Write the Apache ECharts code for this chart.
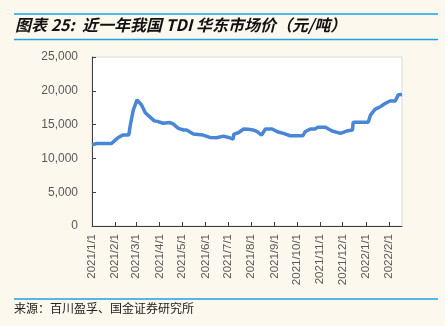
<!DOCTYPE html>
<html><head><meta charset="utf-8">
<script src="https://cdn.jsdelivr.net/npm/echarts@6/dist/echarts.min.js"></script>
<style>html,body{margin:0;padding:0;background:#fcf8ee;}#c{width:445px;height:326px;}</style>
</head><body><div id="c"></div>
<script>
var titleText = '图表 25:  近一年我国 TDI 华东市场价（元/吨）';
var sourceText = '来源：百川盈孚、国金证券研究所';
var axisStart = '2021-01-01';
var axisEnd = '2022-02-18';
var yTicks = [0, 5000, 10000, 15000, 20000, 25000];
var priceDates = ['2021-01-01','2021-01-07','2021-01-27','2021-02-01','2021-02-05','2021-02-07','2021-02-11','2021-02-19','2021-02-21','2021-02-25','2021-03-02','2021-03-08','2021-03-13','2021-03-19','2021-03-25','2021-03-30','2021-04-06','2021-04-15','2021-04-19','2021-04-26','2021-05-03','2021-05-07','2021-05-16','2021-05-29','2021-06-07','2021-06-16','2021-06-25','2021-07-02','2021-07-08','2021-07-09','2021-07-15','2021-07-22','2021-07-28','2021-08-04','2021-08-09','2021-08-15','2021-08-20','2021-08-29','2021-09-05','2021-09-13','2021-09-22','2021-10-09','2021-10-12','2021-10-19','2021-10-25','2021-10-29','2021-11-08','2021-11-17','2021-11-28','2021-12-08','2021-12-14','2021-12-15','2022-01-04','2022-01-07','2022-01-13','2022-01-20','2022-01-27','2022-02-02','2022-02-09','2022-02-13','2022-02-18'];
var priceValues = [12000,12200,12200,12700,13100,13150,13450,13450,14900,17150,18650,17900,16750,16150,15550,15450,15200,15300,15100,14450,14200,14200,13600,13450,13100,13050,13300,13100,12850,13600,13800,14350,14300,14200,13950,13450,14350,14350,13950,13700,13350,13350,13950,14350,14350,14600,14600,14050,13700,14100,14200,15350,15350,16400,17250,17650,18150,18500,18500,19400,19450];

function fmt(d){return d.getUTCFullYear()+'/'+(d.getUTCMonth()+1)+'/'+d.getUTCDate();}
var categories = [];
var d0 = new Date(axisStart+'T00:00:00Z'), d1 = new Date(axisEnd+'T00:00:00Z');
for (var d = new Date(d0); d <= d1; d = new Date(d.getTime()+86400000)) categories.push(fmt(d));
var seriesData = priceDates.map(function(s,i){return [fmt(new Date(s+'T00:00:00Z')), priceValues[i]];});
function isMonthStart(idx, val){return /\/1$/.test(val);}

var chart = echarts.init(document.getElementById('c'), null, {renderer:'canvas'});
chart.setOption({
  backgroundColor:'#fcf8ee',
  animation:false,
  grid:{left:92, right:43, top:57, bottom:100, show:true, backgroundColor:'#ffffff', borderColor:'#d9d9d9', borderWidth:1},
  xAxis:{type:'category', data:categories, boundaryGap:false,
    axisLine:{lineStyle:{color:'#404040', width:1}},
    axisTick:{inside:true, length:4, interval:isMonthStart, lineStyle:{color:'#404040'}},
    axisLabel:{interval:isMonthStart, rotate:90, color:'#595959', fontSize:11.5, fontFamily:'Liberation Sans, Arial', margin:8},
    splitLine:{show:false}},
  yAxis:{type:'value', min:yTicks[0], max:yTicks[yTicks.length-1], interval:5000,
    axisLine:{show:true, lineStyle:{color:'#404040', width:1}},
    axisTick:{show:true, inside:true, length:4, lineStyle:{color:'#404040'}},
    axisLabel:{color:'#595959', fontSize:12, fontFamily:'Liberation Sans, Arial', margin:14,
      formatter:function(v){return v.toLocaleString('en-US');}},
    splitLine:{show:false}},
  series:[{type:'line', data:seriesData, showSymbol:false, symbol:'none',
    lineStyle:{color:'#4a86d6', width:3.5}}],
  graphic:[
    {type:'line', shape:{x1:14,y1:14,x2:438,y2:14}, style:{stroke:'#1aa3e8', lineWidth:1.5}},
    {type:'line', shape:{x1:14,y1:39.5,x2:438,y2:39.5}, style:{stroke:'#1aa3e8', lineWidth:1.5}},
    {type:'line', shape:{x1:14,y1:299,x2:438,y2:299}, style:{stroke:'#1aa3e8', lineWidth:1.5}},
    {type:'text', left:15, top:17, style:{text:titleText, font:'italic bold 16px "Noto Sans CJK SC", sans-serif', fill:'#111'}},
    {type:'text', left:14, top:302, style:{text:sourceText, font:'12px "Noto Sans CJK SC", sans-serif', fill:'#222'}}
  ]
});
</script></body></html>
